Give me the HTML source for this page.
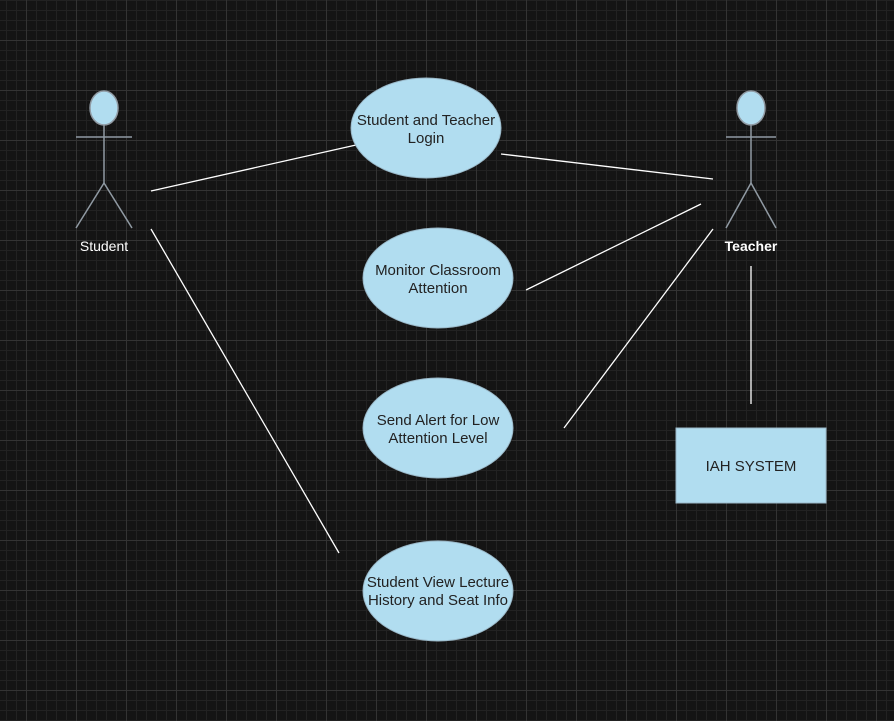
<!DOCTYPE html>
<html><head><meta charset="utf-8"><style>
html,body{margin:0;padding:0;}
body{width:894px;height:721px;overflow:hidden;background-color:#141414;
background-image:
linear-gradient(to right,#333 1px,transparent 1px),
linear-gradient(to bottom,#333 1px,transparent 1px),
linear-gradient(to right,#222 1px,transparent 1px),
linear-gradient(to bottom,#222 1px,transparent 1px);
background-size:50px 50px,50px 50px,10px 10px,10px 10px;
background-position:26px 40px,26px 40px,6px 0,6px 0;}
svg{position:absolute;left:0;top:0}
</style></head><body>
<svg width="894" height="721" xmlns="http://www.w3.org/2000/svg" font-family="Liberation Sans, Arial, sans-serif">
<g stroke="#fff" stroke-width="1.3" fill="none">
<line x1="151" y1="191" x2="356" y2="145"/>
<line x1="151" y1="229" x2="339" y2="553"/>
<line x1="501" y1="154" x2="713" y2="179"/>
<line x1="526" y1="290" x2="701" y2="204"/>
<line x1="564" y1="428" x2="713" y2="229"/>
<line x1="751" y1="266" x2="751" y2="404"/>
</g>
<g stroke="#909aa3" stroke-width="1.5" fill="none">
<ellipse cx="104" cy="108" rx="14" ry="17" fill="#b1ddf0"/>
<line x1="104" y1="125" x2="104" y2="183"/>
<line x1="76" y1="137" x2="132" y2="137"/>
<line x1="104" y1="183" x2="76" y2="228"/>
<line x1="104" y1="183" x2="132" y2="228"/>
<ellipse cx="751" cy="108" rx="14" ry="17" fill="#b1ddf0"/>
<line x1="751" y1="125" x2="751" y2="183"/>
<line x1="726" y1="137" x2="776" y2="137"/>
<line x1="751" y1="183" x2="726" y2="228"/>
<line x1="751" y1="183" x2="776" y2="228"/>
</g>
<text x="104" y="251" fill="#fff" font-size="14" text-anchor="middle">Student</text>
<text x="751" y="251" fill="#fff" font-size="14" font-weight="bold" text-anchor="middle">Teacher</text>
<g fill="#b1ddf0" stroke="#9ab8c8" stroke-width="1">
<ellipse cx="426" cy="128" rx="75" ry="50"/>
<ellipse cx="438" cy="278" rx="75" ry="50"/>
<ellipse cx="438" cy="428" rx="75" ry="50"/>
<ellipse cx="438" cy="591" rx="75" ry="50"/>
<rect x="676" y="428" width="150" height="75"/>
</g>
<g fill="#222" font-size="15" text-anchor="middle">
<text x="426" y="125">Student and Teacher</text><text x="426" y="143">Login</text>
<text x="438" y="275">Monitor Classroom</text><text x="438" y="293">Attention</text>
<text x="438" y="425">Send Alert for Low</text><text x="438" y="443">Attention Level</text>
<text x="438" y="587">Student View Lecture</text><text x="438" y="605">History and Seat Info</text>
<text x="751" y="471">IAH SYSTEM</text>
</g>
</svg>
</body></html>
